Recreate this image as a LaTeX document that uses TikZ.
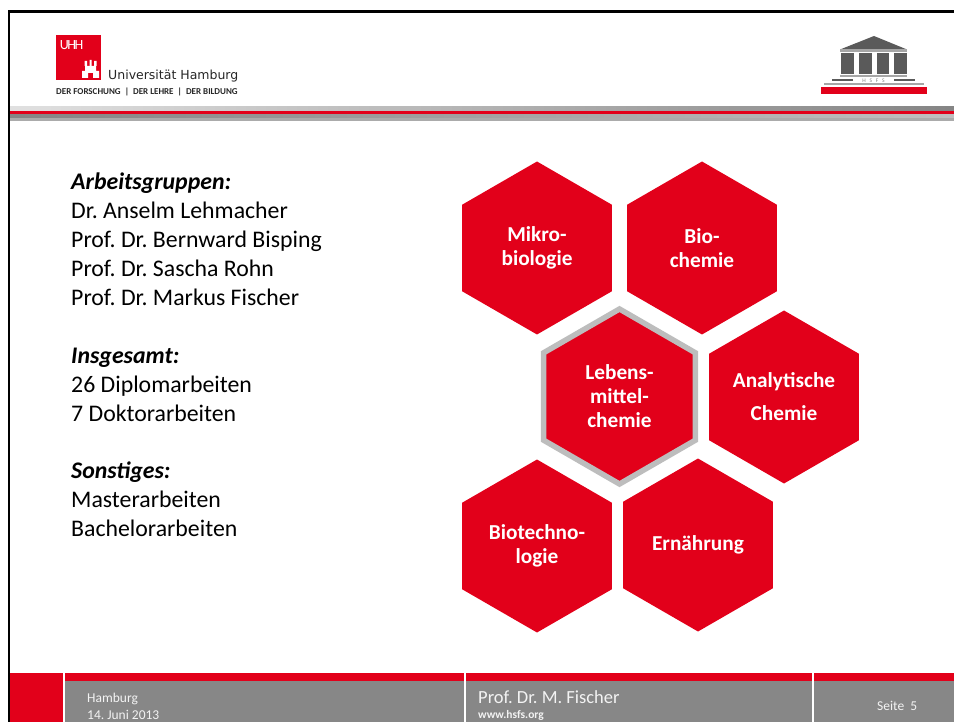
\documentclass[tikz,border=0pt]{standalone}
\usepackage{fontspec}
\setmainfont{Carlito}
\newfontfamily\logofont{DejaVu Sans}
\usetikzlibrary{shapes.geometric}
\definecolor{uhhred}{HTML}{E2001A}
\definecolor{footgray}{HTML}{878787}
\definecolor{ringgray}{HTML}{BDBDBD}
\definecolor{templegray}{HTML}{5A5A5A}
\frenchspacing
\begin{document}
\begin{tikzpicture}[
  x=1pt, y=-1pt,
  hexa/.style={regular polygon, regular polygon sides=6, regular polygon rotate=30, fill=uhhred, minimum size=173pt, inner sep=0pt, align=center, text=white, font=\fontsize{21.3}{24}\selectfont\bfseries},
  body/.style={anchor=north west, align=left, inner sep=0pt, font=\fontsize{23.8}{28.8}\selectfont},
  foot/.style={anchor=west, inner sep=0pt, text=white!90!footgray},
  band/.style={fill=footgray, draw=none},
  redbar/.style={fill=uhhred, draw=none}
]
\path[use as bounding box] (0,0) rectangle (954,722);

% frame
\fill[black] (7.5,10) rectangle (954,12.7);
\fill[black] (7.5,10) rectangle (10,722);

% header bands
\shade[left color=black!12, right color=black!48] (10,107) rectangle (954,111);
\fill[redbar] (10,111) rectangle (954,115);
\shade[left color=black!48, right color=black!25] (10,115) rectangle (954,118);
\fill[black!33] (10,118) rectangle (954,121);

% uhh logo
\fill[redbar] (56,35) rectangle (101,80);
\node[inner sep=0pt, text=white, font=\fontsize{14}{14}\selectfont] (uhh) at (71.5,45) {U\kern-1.5pt H\kern-1.5pt H};
\fill[white] (82,78) -- (82,71) -- (85,71) -- (85,66) -- (96,66) -- (96,71) -- (99,71) -- (99,78) -- (93,78) -- (93,73) -- (88,73) -- (88,78) -- cycle;
\fill[white] (84.5,61) rectangle (87,66) (89.5,60) rectangle (91.5,66) (94,61) rectangle (96.5,66);
\node[anchor=west, inner sep=0pt, text=black!85, font=\logofont\fontsize{12.5}{12.5}\selectfont] (uni) at (108,76.5) {Universität Hamburg};
\node[anchor=west, inner sep=0pt, text=black!85, font=\fontsize{9}{9}\selectfont\bfseries] (motto) at (56,91.5) {DER FORSCHUNG\ \ |\ \ DER LEHRE\ \ |\ \ DER BILDUNG};

% hsfs logo
\fill[templegray] (840,49.5) -- (874,36) -- (907,49.5) -- cycle;
\fill[black!35] (840,49.5) rectangle (907,52);
\foreach \xx in {841,859,876.5,894}{
  \fill[templegray] (\xx,53) rectangle ++(12.5,21);
}
\fill[black!35] (840,75) rectangle (907,76.7);
\fill[templegray] (832,79.5) rectangle (853,81);
\fill[templegray] (894,79.5) rectangle (915,81);
\node[inner sep=0pt, text=black!50, font=\fontsize{5.5}{5.5}\selectfont] (hsfs) at (873.5,80.5) {H\ \ \ S\ \ \ F\ \ \ S};
\fill[black!35] (824,83.3) rectangle (924,84.7);
\fill[redbar] (821,86.7) rectangle (927,94);

% left text
\node[body] (groups) at (71,173) {\textbf{\textit{Arbeitsgruppen:}}\\Dr. Anselm Lehmacher\\Prof. Dr. Bernward Bisping\\Prof. Dr. Sascha Rohn\\Prof. Dr. Markus Fischer};
\node[body] (total) at (71,348) {\textbf{\textit{Insgesamt:}}\\26 Diplomarbeiten\\7 Doktorarbeiten};
\node[body] (other) at (71,461.5) {\textbf{\textit{Sonstiges:}}\\Masterarbeiten\\Bachelorarbeiten};

% hexagons
\node[hexa] (mikro) at (537,248) {Mikro-\\biologie};
\node[hexa] (bio) at (702,248) {Bio-\\chemie};
\node[hexa, draw=ringgray, line width=5.5pt, minimum size=175pt] (lmc) at (619.5,396.5) {Lebens-\\mittel-\\chemie};
\node[hexa] (ana) at (784,397) {Analytische\\[9pt]Chemie};
\node[hexa] (biot) at (537,546) {Biotechno-\\logie};
\node[hexa] (ern) at (698,545) {Ernährung};

% footer
\fill[redbar] (10,673) rectangle (63,722);
\fill[redbar] (65,673) rectangle (464,681);
\fill[redbar] (466,673) rectangle (812,681);
\fill[redbar] (814,673) rectangle (954,681);
\fill[band] (65,681) rectangle (464,722);
\fill[band] (466,681) rectangle (812,722);
\fill[band] (814,681) rectangle (954,722);
\node[foot, font=\fontsize{13.5}{13.5}\selectfont] (place) at (87,699) {Hamburg};
\node[foot, font=\fontsize{13.5}{13.5}\selectfont] (date) at (87,715) {14. Juni 2013};
\node[foot, font=\fontsize{18.5}{18.5}\selectfont] (name) at (478,697) {Prof. Dr. M. Fischer};
\node[foot, font=\fontsize{11.5}{11.5}\selectfont\bfseries] (web) at (478,715.5) {www.hsfs.org};
\node[foot, font=\fontsize{13.5}{13.5}\selectfont] (page) at (877,706) {Seite\ \ 5};
\end{tikzpicture}
\end{document}
